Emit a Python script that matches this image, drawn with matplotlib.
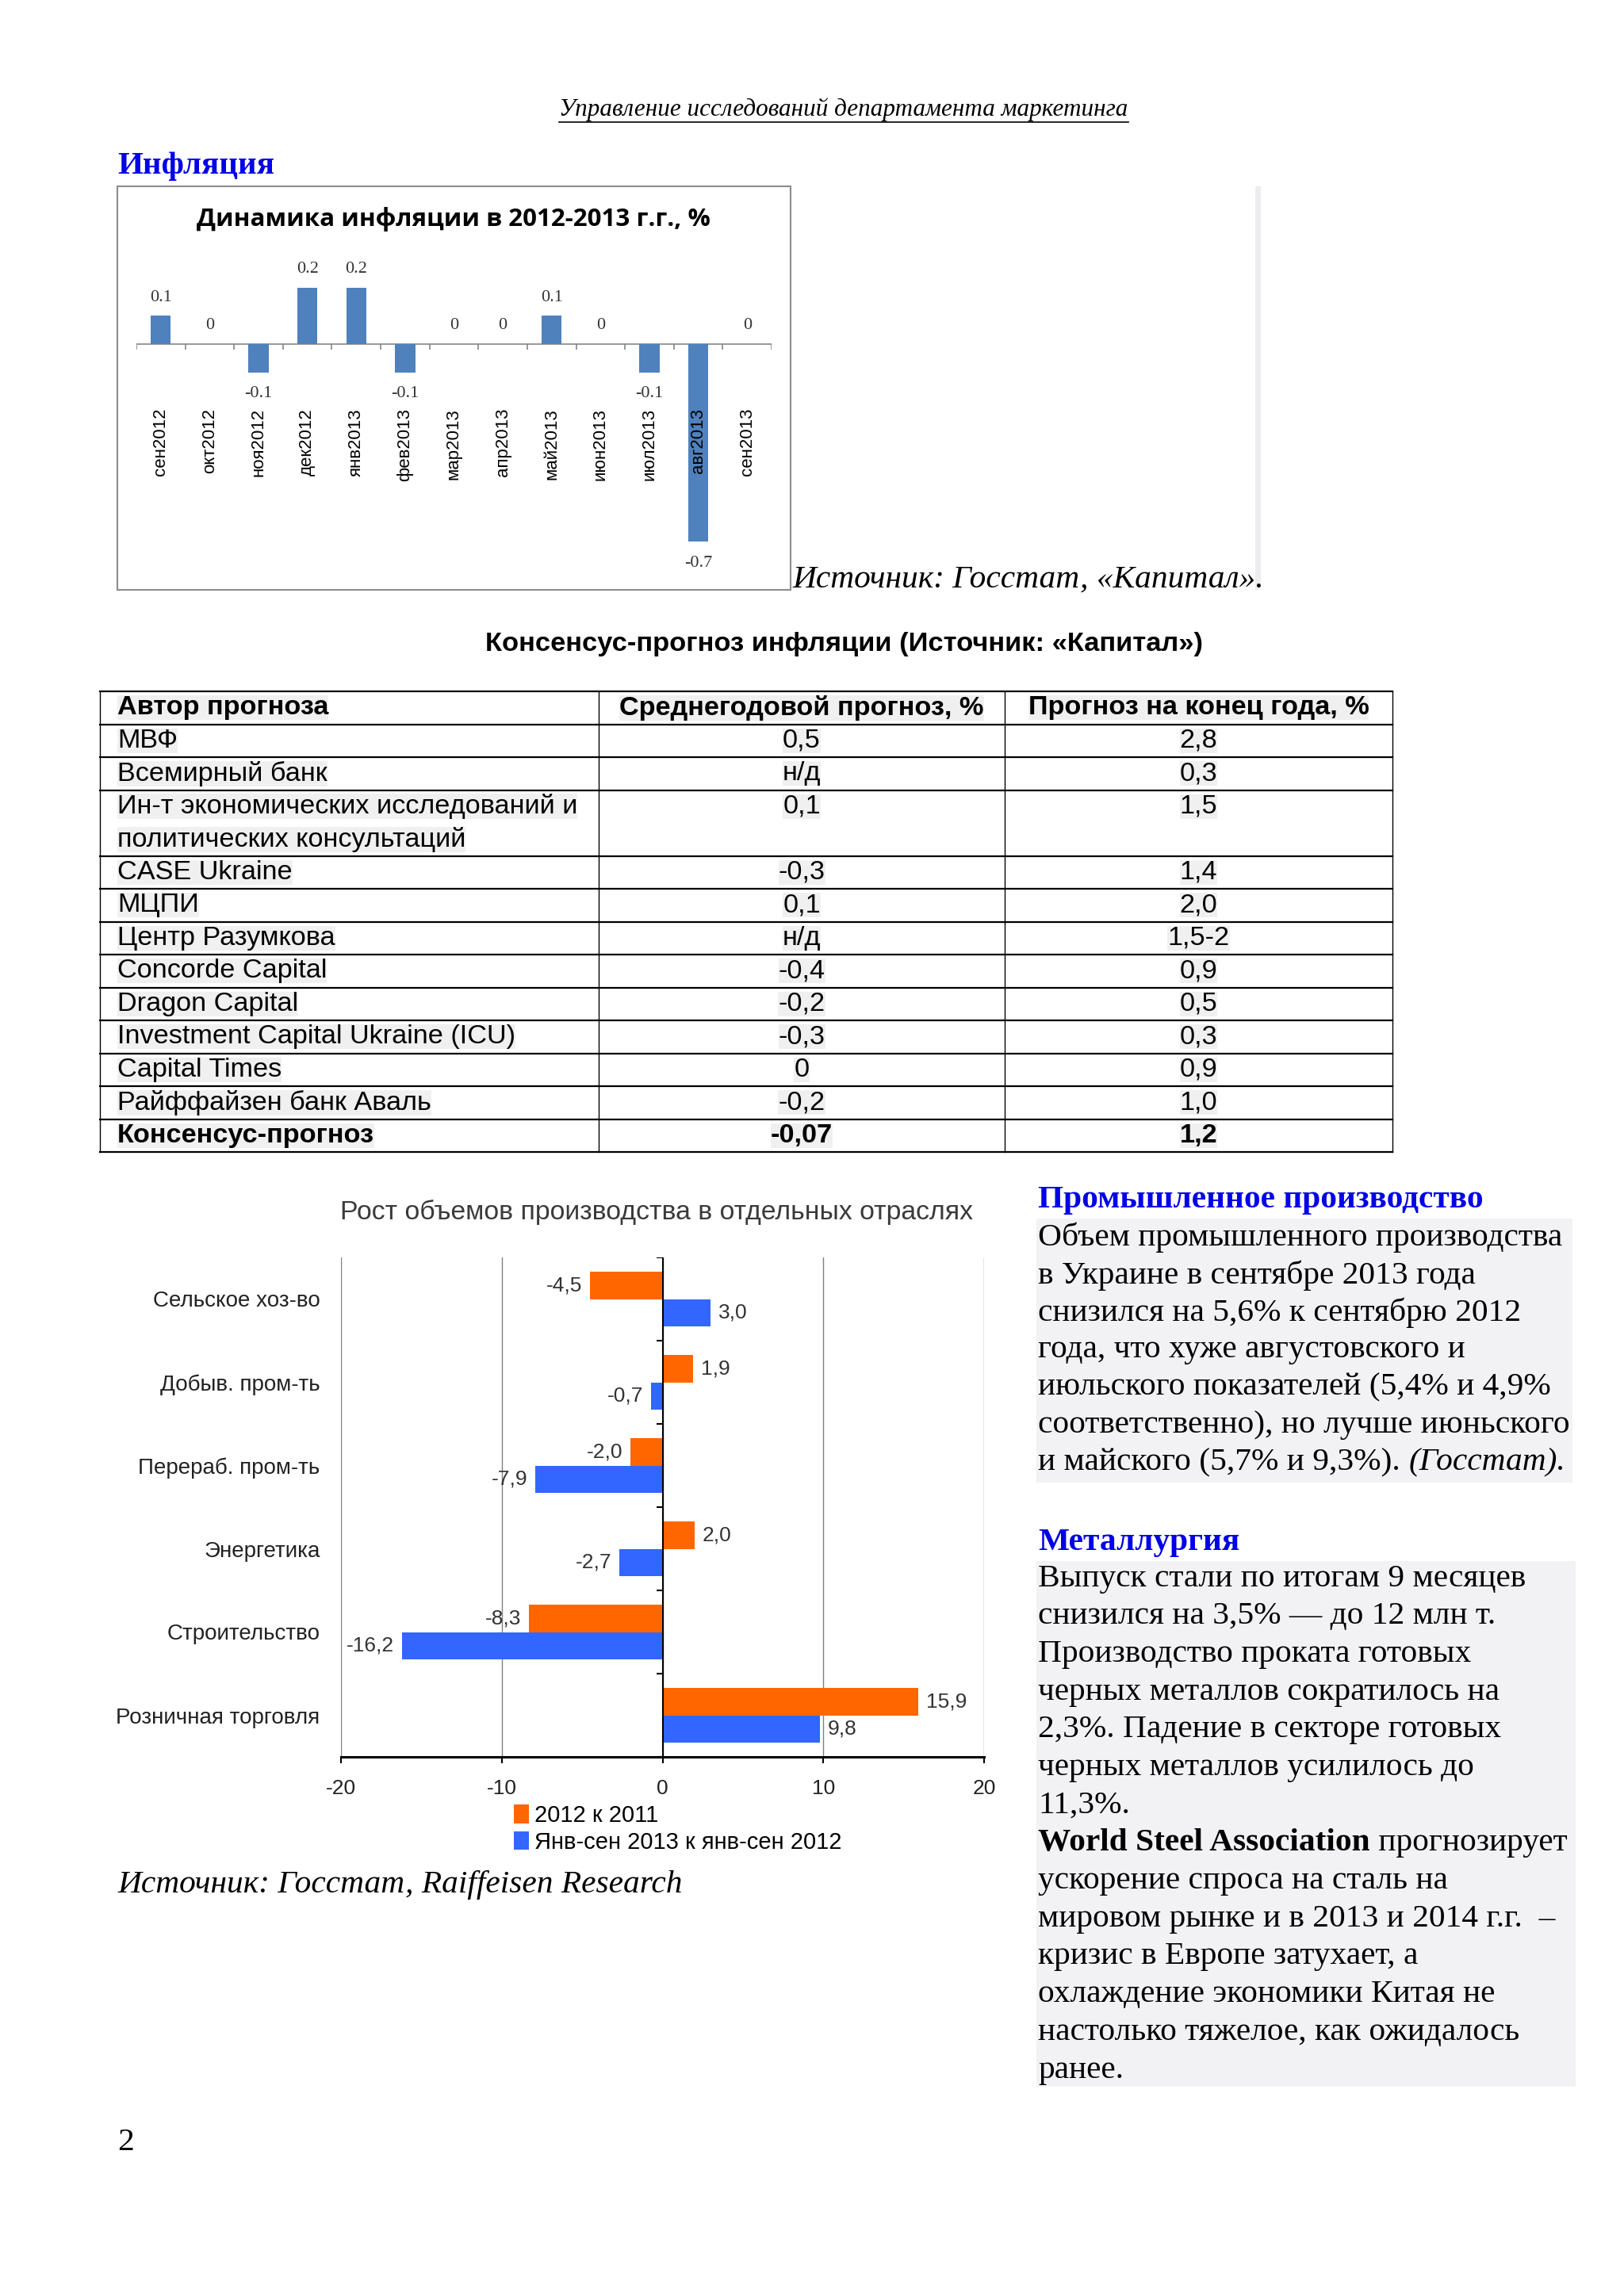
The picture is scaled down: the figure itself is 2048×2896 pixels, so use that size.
import matplotlib
matplotlib.use("Agg")
import matplotlib.pyplot as plt
from matplotlib.patches import Rectangle
import numpy as np

plt.rcParams['axes.unicode_minus'] = False

W, H = 2048, 2896
SERIF = ["Liberation Serif", "DejaVu Serif"]
SANS = ["Liberation Sans", "DejaVu Sans"]
TITLE_SANS = ["Open Sans", "DejaVu Sans"]
BLUE_HEAD = '#0000e6'

# --- inflation by month, %
infl_months = ["сен2012", "окт2012", "ноя2012", "дек2012", "янв2013", "фев2013", "мар2013",
               "апр2013", "май2013", "июн2013", "июл2013", "авг2013", "сен2013"]
infl_values = [0.1, 0, -0.1, 0.2, 0.2, -0.1, 0, 0, 0.1, 0, -0.1, -0.7, 0]

# --- consensus forecast table
tbl_header = ["Автор прогноза", "Среднегодовой прогноз, %", "Прогноз на конец года, %"]
tbl_authors = ["МВФ", "Всемирный банк",
               "Ин-т экономических исследований и\nполитических консультаций",
               "CASE Ukraine", "МЦПИ", "Центр Разумкова", "Concorde Capital", "Dragon Capital",
               "Investment Capital Ukraine (ICU)", "Capital Times", "Райффайзен банк Аваль",
               "Консенсус-прогноз"]
tbl_avg = ["0,5", "н/д", "0,1", "-0,3", "0,1", "н/д", "-0,4", "-0,2", "-0,3", "0", "-0,2", "-0,07"]
tbl_eoy = ["2,8", "0,3", "1,5", "1,4", "2,0", "1,5-2", "0,9", "0,5", "0,3", "0,9", "1,0", "1,2"]

# --- production growth by sector
sectors = ["Сельское хоз-во", "Добыв. пром-ть", "Перераб. пром-ть", "Энергетика",
           "Строительство", "Розничная торговля"]
growth_2012 = [-4.5, 1.9, -2.0, 2.0, -8.3, 15.9]
growth_2013 = [3.0, -0.7, -7.9, -2.7, -16.2, 9.8]
legend_labels = ["2012 к 2011", "Янв-сен 2013 к янв-сен 2012"]

# --- text column
ind_lines = ["Объем промышленного производства",
             "в Украине в сентябре 2013 года",
             "снизился на 5,6% к сентябрю 2012",
             "года, что хуже августовского и",
             "июльского показателей (5,4% и 4,9%",
             "соответственно), но лучше июньского"]
ind_last = ["и майского (5,7% и 9,3%). ", "(Госстат)."]
met_lines = ["Выпуск стали по итогам 9 месяцев",
             "снизился на 3,5% — до 12 млн т.",
             "Производство проката готовых",
             "черных металлов сократилось на",
             "2,3%. Падение в секторе готовых",
             "черных металлов усилилось до",
             "11,3%.",
             None,
             "ускорение спроса на сталь на",
             "мировом рынке и в 2013 и 2014 г.г.  –",
             "кризис в Европе затухает, а",
             "охлаждение экономики Китая не",
             "настолько тяжелое, как ожидалось",
             "ранее."]
met_bold = ["World Steel Association", " прогнозирует"]


def ax_rect(x0, y0, x1, y1):
    return [x0 / W, 1 - y1 / H, (x1 - x0) / W, (y1 - y0) / H]


fig = plt.figure(figsize=(W / 100, H / 100), dpi=100)
page = fig.add_axes([0, 0, 1, 1])
page.set_xlim(0, W)
page.set_ylim(H, 0)
page.axis('off')
renderer = fig.canvas.get_renderer()

BODY = 29.8


def inline(x, y, parts, size):
    for s, kw in parts:
        t = page.text(x, y, s, va='center', ha='left', fontsize=size, family=SERIF, **kw)
        x += t.get_window_extent(renderer).width


# header
hdr = page.text(1064, 138, "Управление исследований департамента маркетинга", ha='center',
                va='center', style='italic', fontsize=22.4, family=SERIF)
bb = hdr.get_window_extent(renderer)
page.plot([bb.x0, bb.x1], [H - bb.y0 + 1, H - bb.y0 + 1], color='black', lw=1.2)

page.text(148, 209, "Инфляция", color=BLUE_HEAD, weight='bold', fontsize=29.5, family=SERIF, va='center')

# inflation chart frame
page.add_patch(Rectangle((148, 235), 849, 509, fill=False, ec='#8c8c8c', lw=1.5))
page.add_patch(Rectangle((1583, 235), 7, 509, color='#ededf0', lw=0))
page.text(572, 277, "Динамика инфляции в 2012-2013 г.г., %", ha='center', va='center',
          weight='bold', fontsize=22.6, family=TITLE_SANS)
page.text(999, 731, "Источник: Госстат, «Капитал».", style='italic', fontsize=BODY,
          family=SERIF, va='center')

ax1 = fig.add_axes(ax_rect(172, 327, 973, 719))
xi = np.arange(len(infl_values))
ax1.bar(xi, infl_values, width=0.41, color='#4F81BD', zorder=2)
ax1.set_xlim(-0.5, len(infl_values) - 0.5)
ax1.set_ylim(-0.8, 0.3)
ax1.axis('off')
ax1.axhline(0, color='#868686', lw=1.2, zorder=1)
ax1.vlines(np.arange(-0.5, len(infl_values), 1), -0.02, 0, color='#868686', lw=1.2)
for i, (m, v) in enumerate(zip(infl_months, infl_values)):
    ax1.text(i, -0.2275, m, rotation=90, ha='center', va='top', fontsize=16, family=SANS, zorder=3)
    lbl = "0" if v == 0 else f"{v:.1f}"
    ax1.annotate(lbl, (i, v), xytext=(0, 16.5 if v >= 0 else -19.5), textcoords='offset points',
                 ha='center', va='center', fontsize=16, family=SERIF, color='#333333')

# consensus table
page.text(1064, 813, "Консенсус-прогноз инфляции (Источник: «Капитал»)", ha='center', va='center',
          weight='bold', fontsize=24.8, family=SANS)
TBL = 24.7
cols = [126, 755, 1267, 1756]
rh = 41.5
rows = [(tbl_header, True)] + [([a, m, e], a == "Консенсус-прогноз")
                               for a, m, e in zip(tbl_authors, tbl_avg, tbl_eoy)]
y = 872
page.plot([cols[0], cols[-1]], [y, y], color='black', lw=1.6)
for cells, bold in rows:
    nl = cells[0].count("\n") + 1
    h = rh * nl
    w = 'bold' if bold else 'normal'
    for k, line in enumerate(cells[0].split("\n")):
        page.text(148, y + rh * (k + 0.5), line, va='center', ha='left', fontsize=TBL, weight=w,
                  family=SANS, bbox=dict(fc='#f0f0f0', ec='none', pad=0))
    page.text((cols[1] + cols[2]) / 2, y + rh / 2, cells[1], ha='center', va='center', fontsize=TBL,
              weight=w, family=SANS, bbox=dict(fc='#f0f0f0', ec='none', pad=0))
    page.text((cols[2] + cols[3]) / 2, y + rh / 2, cells[2], ha='center', va='center', fontsize=TBL,
              weight=w, family=SANS, bbox=dict(fc='#f0f0f0', ec='none', pad=0))
    y += h
    page.plot([cols[0], cols[-1]], [y, y], color='black', lw=1.6)
for cx in cols:
    page.plot([cx, cx], [872, y], color='black', lw=1.0)

# production chart
page.text(828, 1529, "Рост объемов производства в отдельных отраслях", ha='center', va='center',
          fontsize=24.3, family=SANS, color='#3a3a3a')
ax2 = fig.add_axes(ax_rect(430, 1586, 1241, 2216))
ys = np.arange(len(sectors))
bh = 0.33
b1 = ax2.barh(ys - bh / 2, growth_2012, height=bh, color='#FF6600', zorder=3)
b2 = ax2.barh(ys + bh / 2, growth_2013, height=bh, color='#3366FF', zorder=3)
ax2.set_xlim(-20, 20)
ax2.set_ylim(len(sectors) - 0.5, -0.5)
ax2.set_xticks([-20, -10, 0, 10, 20])
ax2.grid(axis='x', color='#808080', lw=1)
ax2.set_axisbelow(True)
for s in ['left', 'top', 'right']:
    ax2.spines[s].set_visible(False)
ax2.spines['bottom'].set_linewidth(2.2)
ax2.axvline(0, color='black', lw=1.5, zorder=4)
ax2.hlines(np.arange(-0.5, len(sectors), 1), -0.35, 0, color='black', lw=1.5, zorder=4)
ax2.set_yticks(ys, sectors)
ax2.tick_params(axis='y', length=0, pad=19, labelsize=20)
ax2.tick_params(axis='x', length=6, width=1.5, pad=14, labelsize=19)
for lab in ax2.get_yticklabels() + ax2.get_xticklabels():
    lab.set_family(SANS)
    lab.set_color('#222222')
for vals, off in ((growth_2012, -bh / 2), (growth_2013, bh / 2)):
    for i, v in enumerate(vals):
        ax2.annotate(f"{v:.1f}".replace(".", ","), (v, i + off), xytext=(7 if v >= 0 else -7, 0),
                     textcoords='offset points', ha='left' if v >= 0 else 'right', va='center',
                     fontsize=19, family=SANS, color='#333333')
ax2.legend([b1, b2], legend_labels, loc='upper left', bbox_to_anchor=(648 / W, 1 - 2276 / H),
           bbox_transform=fig.transFigure, frameon=False, prop=dict(family=SANS, size=21),
           handlelength=0.66, handleheight=0.85, handletextpad=0.22, labelspacing=0.2,
           borderpad=0, borderaxespad=0)
page.text(148, 2377, "Источник: Госстат, Raiffeisen Research", style='italic', fontsize=BODY,
          family=SERIF, va='center')

# right column text
page.add_patch(Rectangle((1307, 1537), 676, 333, color='#f2f2f5', lw=0, zorder=0))
page.add_patch(Rectangle((1307, 1969), 680, 663, color='#f2f2f5', lw=0, zorder=0))
page.text(1309, 1514, "Промышленное производство", color=BLUE_HEAD, weight='bold', fontsize=29.8,
          family=SERIF, va='center')
for k, line in enumerate(ind_lines):
    page.text(1309, 1561 + 47.3 * k, line, fontsize=BODY, family=SERIF, va='center')
inline(1309, 1561 + 47.3 * len(ind_lines), [(ind_last[0], {}), (ind_last[1], {'style': 'italic'})], BODY)

page.text(1309, 1945, "Металлургия", color=BLUE_HEAD, weight='bold', fontsize=29.8, family=SERIF,
          va='center')
for k, line in enumerate(met_lines):
    yy = 1991 + 47.7 * k
    if line is None:
        inline(1309, yy, [(met_bold[0], {'weight': 'bold'}), (met_bold[1], {})], BODY)
    else:
        page.text(1309, yy, line, fontsize=BODY, family=SERIF, va='center')

page.text(148, 2702, "2", fontsize=BODY, family=SERIF, va='center')

fig.savefig("out.png", dpi=100, facecolor='white')
